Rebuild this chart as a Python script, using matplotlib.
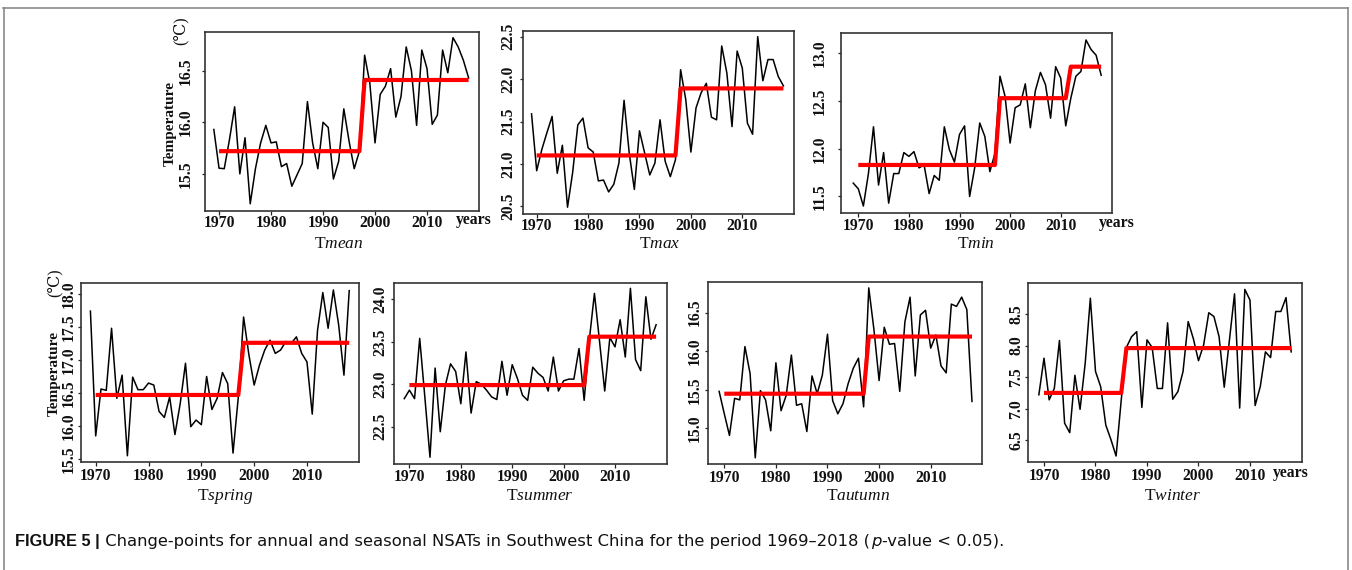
import matplotlib
matplotlib.use('Agg')
import matplotlib.pyplot as plt
from matplotlib.lines import Line2D

plt.rcParams['mathtext.fontset'] = 'custom'
plt.rcParams['mathtext.rm'] = 'Liberation Serif'
plt.rcParams['mathtext.it'] = 'Liberation Serif:italic'

W, H = 1352, 570

years = list(range(1969, 2019))

tmean = [15.93, 15.555, 15.55, 15.83, 16.15, 15.5, 15.85, 15.21, 15.55, 15.8,
         15.97, 15.8, 15.81, 15.57, 15.6, 15.38, 15.49, 15.6, 16.2, 15.8,
         15.55, 16.0, 15.95, 15.45, 15.62, 16.13, 15.82, 15.55, 15.72, 16.65,
         16.38, 15.8, 16.27, 16.35, 16.52, 16.05, 16.25, 16.73, 16.5, 15.97,
         16.7, 16.52, 15.98, 16.07, 16.7, 16.48, 16.82, 16.73, 16.6, 16.43]
tmax = [21.59, 20.92, 21.17, 21.37, 21.56, 20.89, 21.22, 20.49, 20.9, 21.46,
        21.54, 21.19, 21.14, 20.8, 20.81, 20.67, 20.76, 21.01, 21.75, 21.13,
        20.7, 21.39, 21.13, 20.87, 21.01, 21.52, 21.03, 20.85, 21.05, 22.11,
        21.76, 21.14, 21.66, 21.84, 21.95, 21.55, 21.52, 22.39, 22.07, 21.44,
        22.33, 22.13, 21.48, 21.35, 22.5, 21.98, 22.23, 22.23, 22.03, 21.92]
tmin = [11.64, 11.58, 11.40, 11.74, 12.23, 11.62, 11.96, 11.43, 11.74, 11.74,
        11.96, 11.92, 11.97, 11.80, 11.83, 11.53, 11.72, 11.67, 12.23, 11.99,
        11.86, 12.15, 12.24, 11.50, 11.80, 12.27, 12.13, 11.76, 11.95, 12.76,
        12.55, 12.06, 12.43, 12.46, 12.68, 12.22, 12.61, 12.80, 12.67, 12.32,
        12.86, 12.74, 12.24, 12.53, 12.76, 12.81, 13.14, 13.04, 12.98, 12.77]
tspring = [17.74, 15.85, 16.56, 16.54, 17.48, 16.42, 16.77, 15.55, 16.74, 16.55,
           16.55, 16.65, 16.62, 16.22, 16.13, 16.44, 15.87, 16.34, 16.95, 15.99,
           16.09, 16.02, 16.75, 16.25, 16.42, 16.81, 16.64, 15.59, 16.44, 17.65,
           17.08, 16.62, 16.92, 17.15, 17.30, 17.10, 17.15, 17.28, 17.25, 17.35,
           17.10, 16.97, 16.18, 17.45, 18.02, 17.48, 18.06, 17.53, 16.77, 18.05]
tsummer = [22.83, 22.93, 22.83, 23.54, 22.85, 22.14, 23.19, 22.44, 22.99, 23.24,
           23.15, 22.77, 23.38, 22.66, 23.03, 23.0, 22.93, 22.85, 22.82, 23.27,
           22.87, 23.23, 23.07, 22.87, 22.81, 23.20, 23.13, 23.08, 22.92, 23.32,
           22.92, 23.04, 23.06, 23.06, 23.42, 22.81, 23.52, 24.07, 23.5, 22.92,
           23.55, 23.44, 23.76, 23.32, 24.13, 23.29, 23.16, 24.03, 23.53, 23.70]
tautumn = [15.48, 15.19, 14.91, 15.39, 15.37, 16.06, 15.71, 14.62, 15.49, 15.37,
           14.97, 15.85, 15.23, 15.43, 15.95, 15.30, 15.32, 14.96, 15.68, 15.45,
           15.69, 16.22, 15.36, 15.19, 15.32, 15.58, 15.78, 15.91, 15.28, 16.82,
           16.28, 15.62, 16.31, 16.09, 16.10, 15.48, 16.38, 16.70, 15.68, 16.47,
           16.53, 16.04, 16.21, 15.81, 15.72, 16.61, 16.58, 16.70, 16.54, 15.35]
twinter = [7.22, 7.80, 7.14, 7.32, 8.08, 6.77, 6.62, 7.53, 6.99, 7.72,
           8.75, 7.59, 7.35, 6.74, 6.51, 6.25, 7.14, 7.97, 8.14, 8.22,
           7.02, 8.09, 7.97, 7.32, 7.32, 8.36, 7.15, 7.27, 7.59, 8.38,
           8.11, 7.76, 8.01, 8.52, 8.46, 8.14, 7.34, 8.08, 8.82, 7.01,
           8.89, 8.72, 7.05, 7.35, 7.90, 7.81, 8.54, 8.54, 8.76, 7.90]

# change-points (last year of each regime) and regime means
tmean_cp, tmean_lv = [1997], [15.72, 16.41]
tmax_cp, tmax_lv = [1997], [21.10, 21.89]
tmin_cp, tmin_lv = [1997, 2011], [11.83, 12.53, 12.86]
tspring_cp, tspring_lv = [1997], [16.47, 17.26]
tsummer_cp, tsummer_lv = [2004], [22.99, 23.56]
tautumn_cp, tautumn_lv = [1997], [15.45, 16.19]
twinter_cp, twinter_lv = [1985], [7.25, 7.96]

xticks = [1970, 1980, 1990, 2000, 2010]

names = ['mean', 'max', 'min', 'spring', 'summer', 'autumn', 'winter']

# layout: (left, right, top, bottom) in px, xlim, ylim, yticks, ypad gap px, xpad gap px
panels = [
    (tmean, tmean_cp, tmean_lv, (205, 479, 32, 211), (1967.3, 2020.0), (15.14, 16.875),
     [15.5, 16.0, 16.5], 11, 4),
    (tmax, tmax_cp, tmax_lv, (522.7, 794, 30.7, 214), (1967.28, 2020.06), (20.41, 22.57),
     [20.5, 21.0, 21.5, 22.0, 22.5], 6, 4),
    (tmin, tmin_cp, tmin_lv, (840.7, 1111.7, 32.7, 212.7), (1966.52, 2020.08), (11.33, 13.216),
     [11.5, 12.0, 12.5, 13.0], 13, 5),
    (tspring, tspring_cp, tspring_lv, (80.7, 359, 282.7, 462), (1967.16, 2019.85), (15.455, 18.17),
     [15.5, 16.0, 16.5, 17.0, 17.5, 18.0], 4, 6),
    (tsummer, tsummer_cp, tsummer_lv, (394, 666.7, 282.7, 464), (1967.0, 2020.06), (22.06, 24.196),
     [22.5, 23.0, 23.5, 24.0], 6, 5),
    (tautumn, tautumn_cp, tautumn_lv, (708.3, 982.3, 281.7, 464), (1966.9, 2020.0), (14.54, 16.90),
     [15.0, 15.5, 16.0, 16.5], 6, 6),
    (twinter, twinter_cp, twinter_lv, (1028.3, 1302.3, 282.7, 461.7), (1966.95, 2020.16), (6.16, 8.996),
     [6.5, 7.0, 7.5, 8.0, 8.5], 4, 6),
]

# title baselines (px)
title_pos = [(339, 248), (660, 248), (976, 248), (225, 500), (540, 500), (858, 500), (1173, 500)]
years_pos = [(474, 220), None, (1116.7, 223), None, None, None, (1290.7, 473)]

serif = ['Liberation Serif', 'DejaVu Serif']
fig = plt.figure(figsize=(W / 100, H / 100), dpi=100)
fig.patch.set_facecolor('white')

px2pt = 72 / 100.0
tick_len_px = 3.5

for i, (vals, cps, lvs, (l, r, t, b), xl, yl, yt, ygap, xgap) in enumerate(panels):
    ax = fig.add_axes([l / W, 1 - b / H, (r - l) / W, (b - t) / H])
    ax.plot(years, vals, color='black', lw=1.1, zorder=2)
    # step line from regime means
    sx, sy = [1970], [lvs[0]]
    for k, cp in enumerate(cps):
        sx += [cp, cp + 1]
        sy += [lvs[k], lvs[k + 1]]
    sx.append(2018)
    sy.append(lvs[-1])
    ax.plot(sx, sy, color='#ff0000', lw=3.0, zorder=3, solid_capstyle='butt')
    ax.set_xlim(*xl)
    ax.set_ylim(*yl)
    ax.set_xticks(xticks)
    ax.set_xticklabels([str(v) for v in xticks])
    ax.set_yticks(yt)
    ax.set_yticklabels(['%.1f' % v for v in yt])
    ax.tick_params(axis='x', length=tick_len_px * px2pt, width=0.9,
                   pad=max(xgap - tick_len_px, 0) * px2pt, color='#222')
    ax.tick_params(axis='y', length=tick_len_px * px2pt, width=0.9,
                   pad=max(ygap - tick_len_px, 0) * px2pt, color='#222')
    for lab in ax.get_xticklabels():
        lab.set_fontfamily(serif)
        lab.set_fontweight('bold')
        lab.set_fontsize(11.3)
        lab.set_color('#111')
    for lab in ax.get_yticklabels():
        lab.set_fontfamily(serif)
        lab.set_fontweight('bold')
        lab.set_fontsize(11.3)
        lab.set_rotation(90)
        lab.set_va('center')
        lab.set_ha('right')
        lab.set_color('#111')
    for sp in ax.spines.values():
        sp.set_linewidth(1.2)
        sp.set_color('#333')
    tx, ty = title_pos[i]
    fig.text(tx / W, 1 - ty / H, r'T$\mathit{%s}$' % names[i], ha='center', va='baseline',
             fontsize=12.5, family=serif, color='#111')
    if years_pos[i] is not None:
        yx, yy = years_pos[i]
        fig.text(yx / W, 1 - yy / H, 'years', ha='center', va='center', fontsize=11.3,
                 fontweight='bold', family=serif, color='#111')

# y-axis labels
fig.text(170 / W, 1 - 124 / H, 'Temperature', rotation=90, ha='center', va='center',
         fontsize=11, fontweight='bold', family=serif, color='#111')
fig.text(181 / W, 1 - 31 / H, '(℃)', rotation=90, ha='center', va='center',
         fontsize=11.5, family=serif, color='#111')
fig.text(54 / W, 1 - 373 / H, 'Temperature', rotation=90, ha='center', va='center',
         fontsize=11, fontweight='bold', family=serif, color='#111')
fig.text(55 / W, 1 - 283 / H, '(℃)', rotation=90, ha='center', va='center',
         fontsize=11.5, family=serif, color='#111')

# frame lines
fc = '#8a8a8a'
fig.add_artist(Line2D([3 / W, 1348 / W], [1 - 7.5 / H, 1 - 7.5 / H], transform=fig.transFigure, color=fc, lw=1.2))
fig.add_artist(Line2D([3.5 / W, 3.5 / W], [0, 1 - 7.5 / H], transform=fig.transFigure, color=fc, lw=1.2))
fig.add_artist(Line2D([1348 / W, 1348 / W], [0, 1 - 7.5 / H], transform=fig.transFigure, color=fc, lw=1.2))

# caption built from pieces
bold_font = ['Liberation Sans', 'DejaVu Sans']
reg_font = ['DejaVu Sans']
pieces = [
    ('FIGURE 5 |', dict(fontweight='bold', family=bold_font, fontsize=11.8)),
    (' Change-points for annual and seasonal NSATs in Southwest China for the period 1969\u20132018 (',
     dict(family=reg_font, fontsize=11.8)),
    ('p', dict(style='italic', family=reg_font, fontsize=11.8)),
    ('-value < 0.05).', dict(family=reg_font, fontsize=11.8)),
]
renderer = fig.canvas.get_renderer()
xpx = 15.0
ycap = 1 - 546 / H
for s, kw in pieces:
    t = fig.text(xpx / W, ycap, s, ha='left', va='baseline', color='#111', **kw)
    bb = t.get_window_extent(renderer)
    xpx = bb.x1 + 0.5

fig.savefig('out.png', dpi=100, facecolor='white')
